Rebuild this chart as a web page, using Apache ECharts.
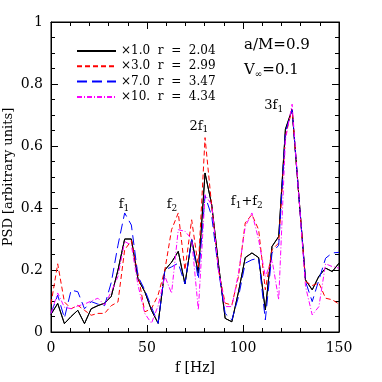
<!DOCTYPE html>
<html>
<head>
<meta charset="utf-8">
<script src="https://cdn.jsdelivr.net/npm/echarts@6/dist/echarts.min.js"></script>
<style>
  html, body { margin: 0; padding: 0; background: #fff; }
  #chart { width: 382px; height: 382px; }
</style>
</head>
<body>
<div id="chart"></div>
<script>
// frequency bins (Hz), uniform spacing
var freqStep = 150 / 43;
var freqs = [];
for (var k = 0; k < 44; k++) freqs.push(+(k * freqStep).toFixed(2));

// PSD, one value per bin
var psd1 = [0.057, 0.092, 0.027, 0.05, 0.07, 0.027, 0.075, 0.085, 0.093, 0.115, 0.2, 0.3, 0.3, 0.17, 0.13, 0.07,
  0.028, 0.2, 0.225, 0.26, 0.155, 0.298, 0.19, 0.513, 0.41, 0.22, 0.044, 0.033, 0.13, 0.24, 0.255, 0.24,
  0.071, 0.276, 0.308, 0.654, 0.718, 0.44, 0.168, 0.136, 0.18, 0.206, 0.195, 0.222];
var psd3 = [0.09, 0.22, 0.097, 0.075, 0.086, 0.07, 0.054, 0.06, 0.06, 0.085, 0.097, 0.265, 0.295, 0.185, 0.065, 0.075,
  0.12, 0.2, 0.33, 0.384, 0.2, 0.362, 0.21, 0.627, 0.405, 0.2, 0.093, 0.087, 0.18, 0.352, 0.379, 0.33,
  0.136, 0.265, 0.287, 0.632, 0.718, 0.44, 0.163, 0.15, 0.158, 0.109, 0.104, 0.09];
var psd7 = [0.06, 0.119, 0.045, 0.135, 0.13, 0.075, 0.098, 0.09, 0.085, 0.16, 0.28, 0.384, 0.345, 0.179, 0.136, 0.08,
  0.028, 0.2, 0.21, 0.222, 0.155, 0.298, 0.17, 0.44, 0.373, 0.2, 0.06, 0.039, 0.114, 0.222, 0.233, 0.238,
  0.039, 0.255, 0.28, 0.643, 0.718, 0.44, 0.163, 0.098, 0.168, 0.238, 0.255, 0.257];
var psd10 = [0.06, 0.126, 0.08, 0.075, 0.084, 0.09, 0.1, 0.109, 0.087, 0.13, 0.179, 0.292, 0.28, 0.15, 0.06, 0.028,
  0.085, 0.18, 0.125, 0.33, 0.325, 0.3, 0.071, 0.443, 0.41, 0.2, 0.082, 0.082, 0.19, 0.34, 0.384, 0.298,
  0.179, 0.233, 0.104, 0.62, 0.735, 0.44, 0.147, 0.055, 0.082, 0.22, 0.211, 0.206];

var seriesNames = ['\u00d71.0  r  =  2.04', '\u00d73.0  r  =  2.99', '\u00d77.0  r  =  3.47', '\u00d710.  r  =  4.34'];

// peak labels: [text, f, psd]
var peakLabels = [
  ['f{s|1}', 38, 0.41],
  ['f{s|2}', 63, 0.41],
  ['2f{s|1}', 77, 0.663],
  ['f{s|1}+f{s|2}', 102, 0.42],
  ['3f{s|1}', 116, 0.73]
];

var FONT = 'DejaVu Serif';

function pairs(vals) {
  return vals.map(function (v, i) { return [freqs[i], v]; });
}

var chart = echarts.init(document.getElementById('chart'), null, { renderer: 'canvas' });

function lineSeries(name, vals, color, dash) {
  return {
    name: name,
    type: 'line',
    data: pairs(vals),
    symbol: 'none',
    animation: false,
    lineStyle: { color: color, width: 1, type: dash },
    itemStyle: { color: color }
  };
}

// each axis gets its own style objects (no sharing)
function makeAxis(extra, minorSplit) {
  var ax = {
    type: 'value',
    axisLine: { show: true, onZero: false, lineStyle: { color: '#000', width: 1 } },
    axisTick: { show: true, inside: true, length: 7, lineStyle: { color: '#000', width: 1 } },
    minorTick: { show: true, splitNumber: minorSplit, length: 4, lineStyle: { color: '#000', width: 1 } },
    splitLine: { show: false }
  };
  for (var key in extra) ax[key] = extra[key];
  return ax;
}

// two grids on the same rect: main axes (bottom/left) and mirror axes (top/right)
var option = {
  backgroundColor: '#fff',
  animation: false,
  grid: [
    { left: 51, right: 43, top: 22, bottom: 50, show: true, borderColor: '#000', borderWidth: 1, backgroundColor: 'transparent' },
    { left: 51, right: 43, top: 22, bottom: 50 }
  ],
  legend: {
    orient: 'vertical',
    left: 71,
    top: 40,
    itemWidth: 39,
    itemHeight: 12,
    itemGap: 3.3,
    itemStyle: { opacity: 0 },
    textStyle: { fontFamily: FONT, fontSize: 12, color: '#000' },
    data: seriesNames
  },
  xAxis: [
    makeAxis({ gridIndex: 0, min: 0, max: 150, interval: 50,
      axisLabel: { fontFamily: FONT, fontSize: 14, color: '#000', margin: 9 } }, 5),
    makeAxis({ gridIndex: 1, min: 0, max: 150, interval: 50, position: 'top', axisLabel: { show: false } }, 5)
  ],
  yAxis: [
    makeAxis({ gridIndex: 0, min: 0, max: 1, interval: 0.2,
      axisLabel: { fontFamily: FONT, fontSize: 14, color: '#000', margin: 8 } }, 4),
    makeAxis({ gridIndex: 1, min: 0, max: 1, interval: 0.2, position: 'right', axisLabel: { show: false } }, 4)
  ],
  series: [
    lineSeries(seriesNames[0], psd1, '#000000', 'solid'),
    lineSeries(seriesNames[1], psd3, '#ff0000', [5, 3]),
    lineSeries(seriesNames[2], psd7, '#0000ff', [10, 5]),
    lineSeries(seriesNames[3], psd10, '#ff00ff', [5, 2, 1, 2]),
    // carrier for the mirror axes, drawn underneath the black curve
    { type: 'line', xAxisIndex: 1, yAxisIndex: 1, data: pairs(psd1), symbol: 'none', silent: true, z: 1,
      lineStyle: { color: '#000', width: 1 } }
  ]
};
chart.setOption(option);

// axis titles and text annotations
var sub = { fontFamily: FONT, fontSize: 9, color: '#000', padding: [7, 0, 0, 0] };
var graphics = peakLabels.map(function (p) {
  var pt = chart.convertToPixel({ xAxisIndex: 0, yAxisIndex: 0 }, [p[1], p[2]]);
  return {
    type: 'text', x: pt[0], y: pt[1],
    style: {
      text: p[0], fontFamily: FONT, fontSize: 13, fill: '#000', align: 'center', verticalAlign: 'middle',
      rich: { s: sub }
    }
  };
});
var xTitle = chart.convertToPixel({ xAxisIndex: 0, yAxisIndex: 0 }, [75, 0]);
graphics.push({
  type: 'text', x: xTitle[0], y: xTitle[1] + 36,
  style: { text: 'f [Hz]', fontFamily: FONT, fontSize: 14, fill: '#000', align: 'center', verticalAlign: 'middle' }
});
var yTitle = chart.convertToPixel({ xAxisIndex: 0, yAxisIndex: 0 }, [0, 0.5]);
graphics.push({
  type: 'text', x: yTitle[0] - 42, y: yTitle[1], rotation: Math.PI / 2,
  style: { text: 'PSD [arbitrary units]', fontFamily: FONT, fontSize: 13, fill: '#000', align: 'center', verticalAlign: 'middle' }
});
graphics.push({
  type: 'text', left: 244, top: 38,
  style: { text: 'a/M=0.9', fontFamily: FONT, fontSize: 15, fill: '#000' }
});
graphics.push({
  type: 'text', left: 244, top: 63,
  style: {
    text: 'V{s|\u221e}=0.1', fontFamily: FONT, fontSize: 15, fill: '#000',
    rich: { s: { fontFamily: FONT, fontSize: 9, color: '#000', padding: [8, 0, 0, 0] } }
  }
});
chart.setOption({ graphic: graphics });
</script>
</body>
</html>
